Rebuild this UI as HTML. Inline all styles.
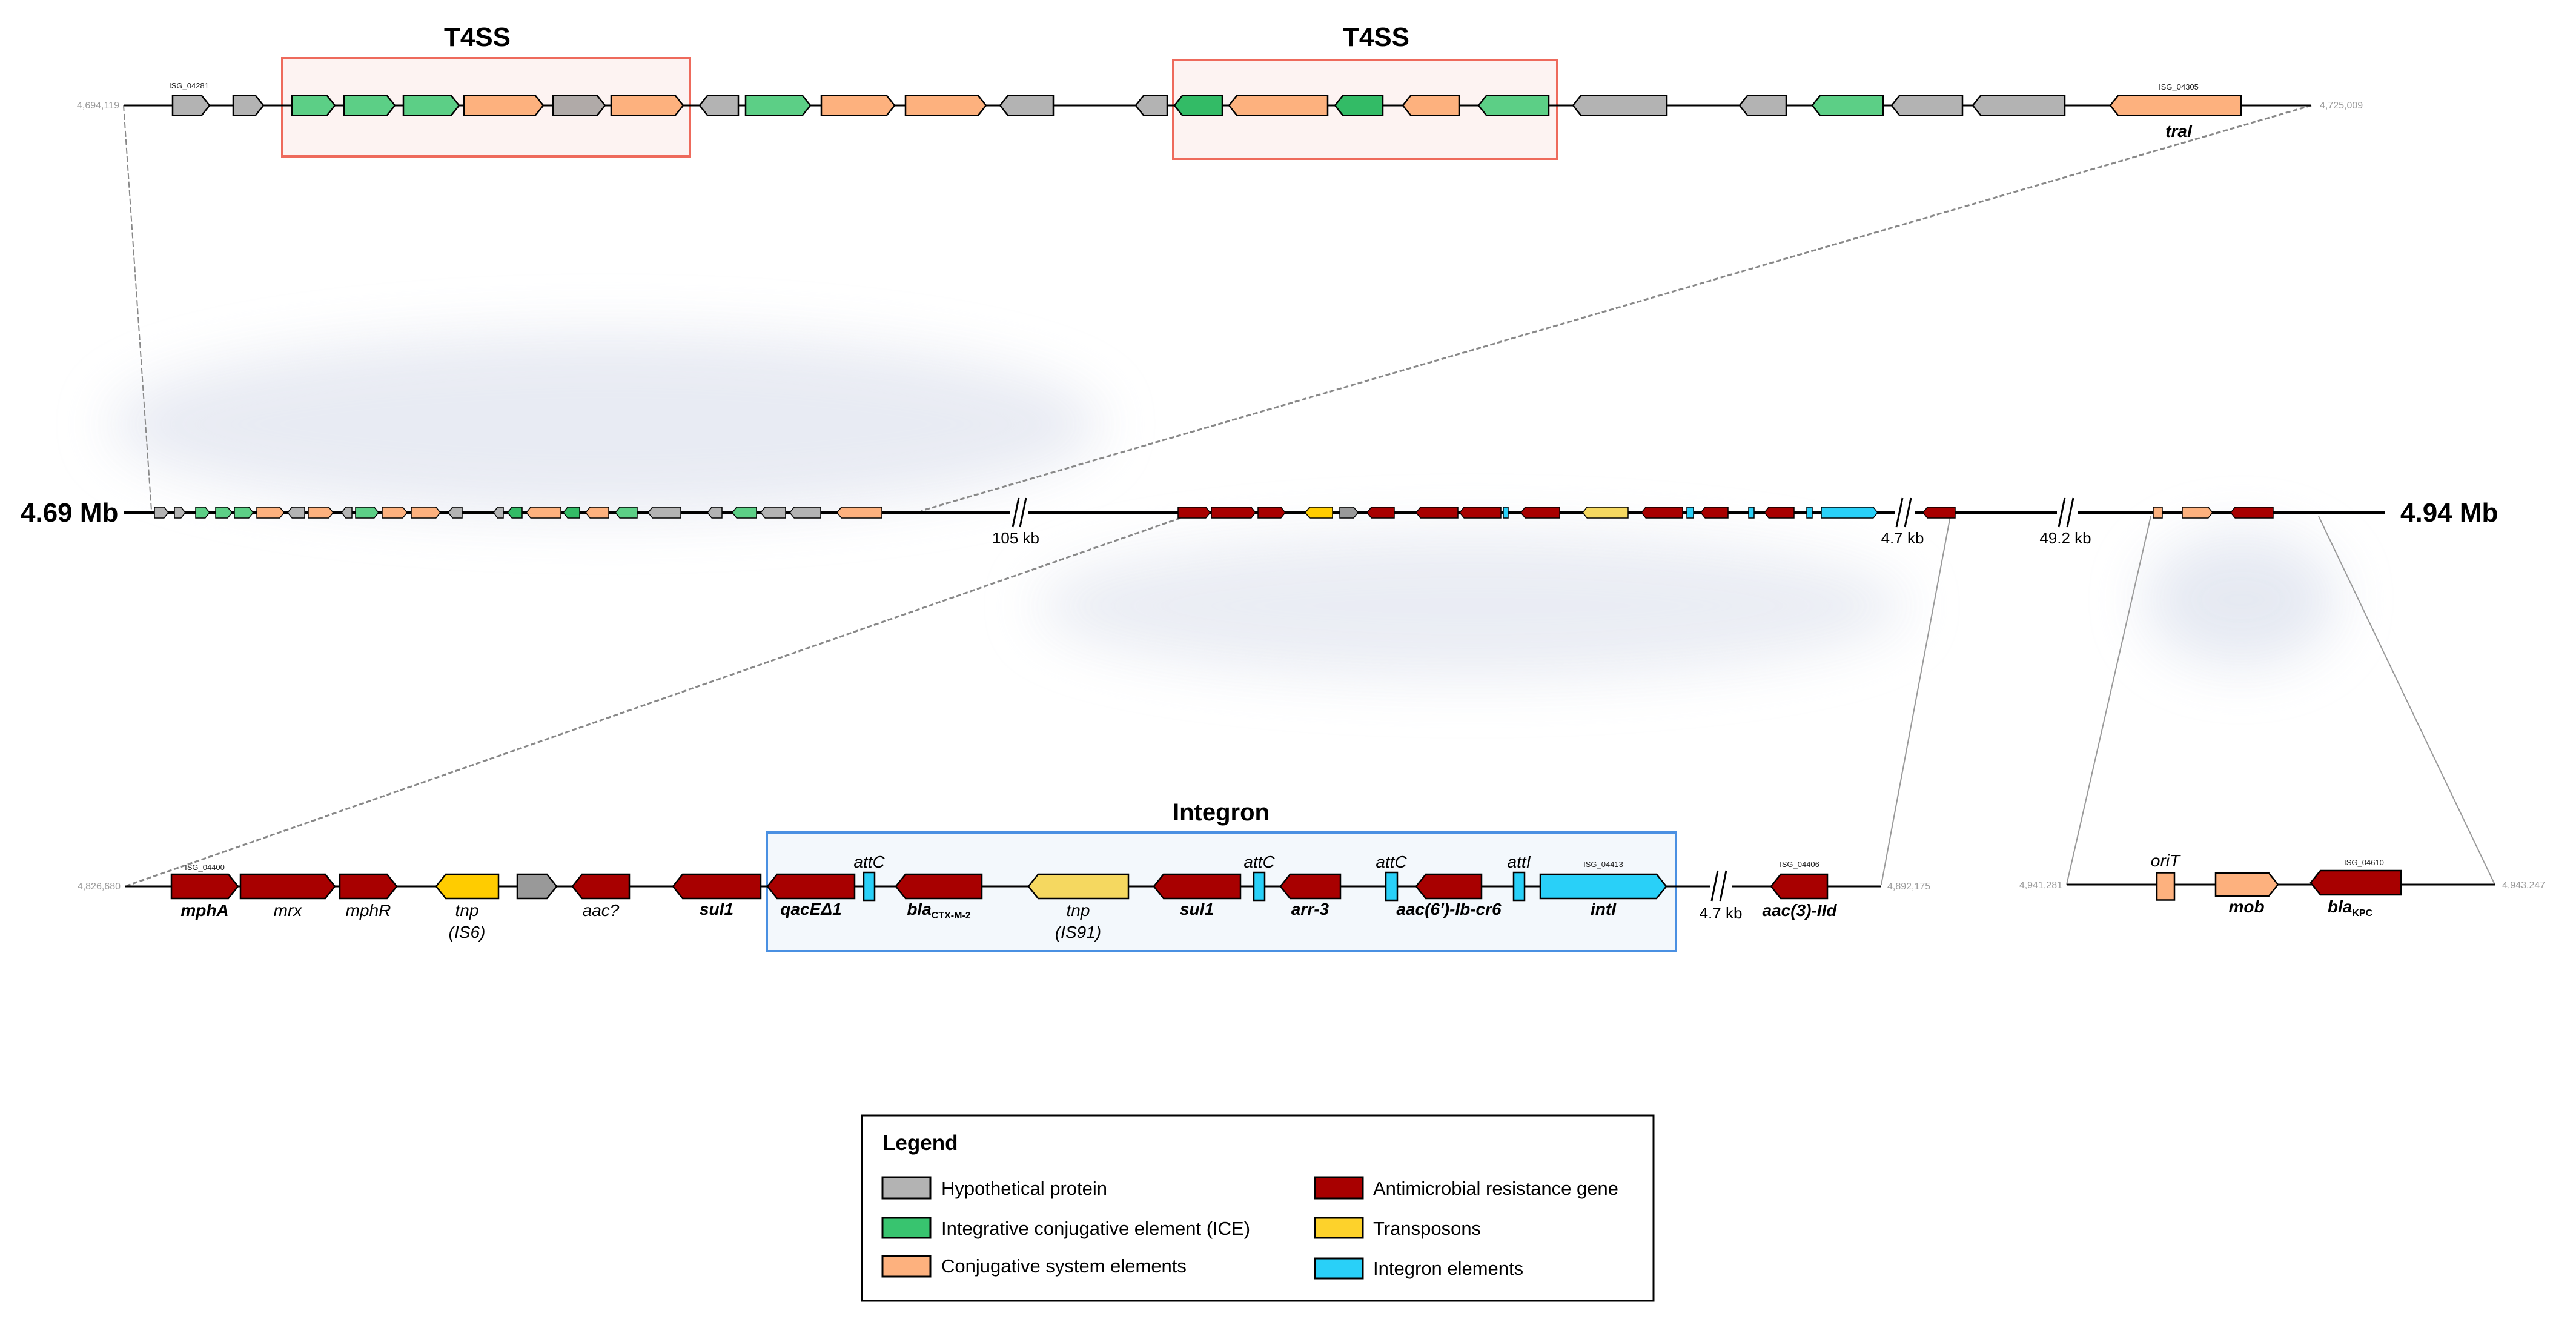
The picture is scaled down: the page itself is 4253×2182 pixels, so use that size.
<!DOCTYPE html>
<html><head><meta charset="utf-8"><style>
html,body{margin:0;padding:0;background:#fff;}
svg{display:block;}
text{font-family:"Liberation Sans",Arial,sans-serif;}
.lab{font-size:28px;font-style:italic;text-anchor:middle;}
.b{font-weight:bold;}
.tiny{font-size:13px;fill:#222;text-anchor:middle;}
.coord{font-size:16px;fill:#999;}
.lg{font-size:31px;}
</style></head><body>
<svg id="s" width="4253" height="2182" viewBox="0 0 4253 2182" xmlns="http://www.w3.org/2000/svg">
<defs>
<filter id="bl" x="-50%" y="-50%" width="200%" height="200%"><feGaussianBlur stdDeviation="45"/></filter>
</defs>
<!-- shaded areas -->
<ellipse cx="1000" cy="700" rx="820" ry="150" fill="#e6e9f2" filter="url(#bl)" opacity="0.9"/>
<ellipse cx="2430" cy="1000" rx="720" ry="120" fill="#e8ebf3" filter="url(#bl)" opacity="0.9"/>
<ellipse cx="3700" cy="990" rx="160" ry="110" fill="#e3e7f1" filter="url(#bl)" opacity="0.9"/>

<!-- T4SS boxes -->
<rect x="466" y="96" width="673" height="162" fill="#fdf3f2" stroke="#ee6a5c" stroke-width="4"/>
<rect x="1937" y="99" width="634" height="163" fill="#fdf3f2" stroke="#ee6a5c" stroke-width="4"/>
<text x="788" y="76" font-size="44" font-weight="bold" text-anchor="middle">T4SS</text>
<text x="2272" y="76" font-size="44" font-weight="bold" text-anchor="middle">T4SS</text>

<!-- Integron box -->
<rect x="1266" y="1374" width="1501" height="196" fill="#f3f8fc" stroke="#4a90e2" stroke-width="4"/>
<text x="2016" y="1354" font-size="40" font-weight="bold" text-anchor="middle">Integron</text>

<!-- connectors -->
<line x1="204" y1="174" x2="250" y2="842" stroke="#888" stroke-width="2" stroke-dasharray="10,4"/>
<line x1="3816" y1="174" x2="1521" y2="843" stroke="#888" stroke-width="3" stroke-dasharray="8,4"/>
<line x1="1949" y1="855" x2="209" y2="1462" stroke="#888" stroke-width="3" stroke-dasharray="8,4"/>
<line x1="3220" y1="852" x2="3106" y2="1460" stroke="#999" stroke-width="2"/>
<line x1="3551" y1="852" x2="3412" y2="1460" stroke="#999" stroke-width="2"/>
<line x1="3828" y1="852" x2="4119" y2="1460" stroke="#999" stroke-width="2"/>

<!-- backbone lines -->
<line x1="204" y1="174" x2="3816" y2="174" stroke="#000" stroke-width="3"/>
<line x1="204" y1="846" x2="3938" y2="846" stroke="#000" stroke-width="4"/>
<line x1="207" y1="1463" x2="3106" y2="1463" stroke="#000" stroke-width="3"/>
<line x1="3412" y1="1460" x2="4119" y2="1460" stroke="#000" stroke-width="3"/>

<g id="genes"></g>

<!-- break marks -->
<g fill="#fff" stroke="none"><rect x="1668" y="836" width="30" height="20"/><rect x="3128" y="836" width="34" height="20"/><rect x="3396" y="836" width="34" height="20"/><rect x="2823" y="1453" width="36" height="20"/></g>
<g stroke="#000" stroke-width="3">
<line x1="1672" y1="870" x2="1682" y2="822"/><line x1="1684" y1="870" x2="1694" y2="822"/>
<line x1="3131" y1="870" x2="3141" y2="822"/><line x1="3145" y1="870" x2="3155" y2="822"/>
<line x1="3399" y1="870" x2="3409" y2="822"/><line x1="3413" y1="870" x2="3423" y2="822"/>
<line x1="2826" y1="1487" x2="2836" y2="1437"/><line x1="2840" y1="1487" x2="2850" y2="1437"/>
</g>
<g font-size="26" text-anchor="middle">
<text x="1677" y="897">105 kb</text>
<text x="3141" y="897">4.7 kb</text>
<text x="3410" y="897">49.2 kb</text>
<text x="2841" y="1516">4.7 kb</text>
</g>
<text x="34" y="861" font-size="44" font-weight="bold">4.69 Mb</text>
<text x="3963" y="861" font-size="44" font-weight="bold">4.94 Mb</text>

<!-- coordinates -->
<text class="coord" x="197" y="179" text-anchor="end">4,694,119</text>
<text class="coord" x="3830" y="179">4,725,009</text>
<text class="coord" x="199" y="1468" text-anchor="end">4,826,680</text>
<text class="coord" x="3116" y="1468">4,892,175</text>
<text class="coord" x="3405" y="1466" text-anchor="end">4,941,281</text>
<text class="coord" x="4131" y="1466">4,943,247</text>

<!-- tiny ids -->
<text class="tiny" x="312" y="146">ISG_04281</text>
<text class="tiny" x="3597" y="148">ISG_04305</text>
<text class="tiny" x="338" y="1436">ISG_04400</text>
<text class="tiny" x="2647" y="1431">ISG_04413</text>
<text class="tiny" x="2971" y="1431">ISG_04406</text>
<text class="tiny" x="3903" y="1428">ISG_04610</text>

<!-- labels -->
<text class="lab b" x="3597" y="226">traI</text>
<g>
<text class="lab b" x="338" y="1512">mphA</text>
<text class="lab" x="475" y="1512">mrx</text>
<text class="lab" x="608" y="1512">mphR</text>
<text class="lab" x="771" y="1512">tnp</text>
<text class="lab" x="771" y="1548" font-style="normal">(IS<tspan font-style="italic">6</tspan>)</text>
<text class="lab" x="992" y="1512">aac?</text>
<text class="lab b" x="1183" y="1510">sul1</text>
<text class="lab b" x="1339" y="1510">qacEΔ1</text>
<text class="lab" x="1435" y="1432">attC</text>
<text class="lab b" x="1550" y="1510">bla<tspan font-size="16" dy="6" font-style="normal">CTX-M-2</tspan></text>
<text class="lab" x="1780" y="1512">tnp</text>
<text class="lab" x="1780" y="1548" font-style="normal">(IS<tspan font-style="italic">91</tspan>)</text>
<text class="lab b" x="1976" y="1510">sul1</text>
<text class="lab" x="2079" y="1432">attC</text>
<text class="lab b" x="2163" y="1510">arr-3</text>
<text class="lab" x="2297" y="1432">attC</text>
<text class="lab b" x="2392" y="1510">aac(6')-Ib-cr6</text>
<text class="lab" x="2508" y="1432">attI</text>
<text class="lab b" x="2647" y="1510">intI</text>
<text class="lab b" x="2971" y="1512">aac(3)-IId</text>
<text class="lab" x="3575" y="1430">oriT</text>
<text class="lab b" x="3709" y="1506">mob</text>
<text class="lab b" x="3880" y="1506">bla<tspan font-size="16" dy="6" font-style="normal">KPC</tspan></text>
</g>

<!-- Legend -->
<rect x="1423" y="1841" width="1307" height="306" fill="#fff" stroke="#000" stroke-width="3"/>
<text x="1457" y="1898" font-size="35" font-weight="bold">Legend</text>
<g stroke="#000" stroke-width="3">
<rect x="1457" y="1943" width="79" height="35" fill="#b3b3b3"/>
<rect x="1457" y="2010" width="79" height="33" fill="#38c46f"/>
<rect x="1457" y="2073" width="79" height="34" fill="#fdb17e"/>
<rect x="2171" y="1943" width="79" height="35" fill="#a80000"/>
<rect x="2171" y="2010" width="79" height="33" fill="#fdd22b"/>
<rect x="2171" y="2077" width="79" height="33" fill="#29d0f8"/>
</g>
<g class="lg">
<text class="lg" x="1554" y="1972">Hypothetical protein</text>
<text class="lg" x="1554" y="2038">Integrative conjugative element (ICE)</text>
<text class="lg" x="1554" y="2100">Conjugative system elements</text>
<text class="lg" x="2267" y="1972">Antimicrobial resistance gene</text>
<text class="lg" x="2267" y="2038">Transposons</text>
<text class="lg" x="2267" y="2104">Integron elements</text>
</g>
</svg>
<script>
var G='#b3b3b3',Gb='#b0aaa8',Gr='#5ccf86',Gd='#33bb66',O='#fdb17e',R='#a80000',Y='#ffcc00',YL='#f5d860',C='#29d0f8';
var out='';
function g(x1,x2,yc,h,d,c,sw){
 var t=Math.min(h*0.4,(x2-x1)*0.4),y1=yc-h/2,y2=yc+h/2,p;
 if(d>0)p=[[x1,y1],[x2-t,y1],[x2,yc],[x2-t,y2],[x1,y2]];
 else if(d<0)p=[[x2,y1],[x1+t,y1],[x1,yc],[x1+t,y2],[x2,y2]];
 else p=[[x1,y1],[x2,y1],[x2,y2],[x1,y2]];
 out+='<polygon points="'+p.map(function(q){return q.join(',')}).join(' ')+'" fill="'+c+'" stroke="#000" stroke-width="'+(sw||2.5)+'"/>';
}
var T=[[285,346,1,G],[385,435,1,G],[482,553,1,Gr],[568,652,1,Gr],[666,758,1,Gr],[766,897,1,O],[913,999,1,Gb],[1009,1128,1,O],
[1155,1219,-1,G],[1231,1338,1,Gr],[1356,1477,1,O],[1495,1628,1,O],[1651,1739,-1,G],[1875,1927,-1,G],[1939,2018,-1,Gd],[2029,2192,-1,O],
[2204,2283,-1,Gd],[2316,2409,-1,O],[2441,2557,-1,Gr],[2597,2752,-1,G],[2872,2949,-1,G],[2992,3109,-1,Gr],[3123,3240,-1,G],[3257,3409,-1,G],[3484,3700,-1,O]];
T.forEach(function(a){g(a[0],a[1],174,33,a[2],a[3]);});
var M=[[255,278,1,G],[288,306,1,G],[323,346,1,Gr],[356,383,1,Gr],[387,418,1,Gr],[424,469,1,O],[475,503,-1,G],[509,550,1,O],[564,581,-1,G],[587,625,1,Gr],[631,672,1,O],[679,727,1,O],[740,763,-1,G],
[815,831,-1,G],[838,862,-1,Gd],[869,926,-1,O],[930,957,-1,Gd],[967,1005,-1,O],[1016,1052,-1,Gr],[1070,1124,-1,G],[1168,1192,-1,G],[1209,1249,-1,Gr],[1256,1297,-1,G],[1304,1355,-1,G],[1382,1456,-1,O],
[1945,1998,1,R],[2000,2073,1,R],[2077,2122,1,R],[2155,2200,-1,Y],[2212,2242,1,'#999'],[2257,2302,-1,R],[2338,2407,-1,R],[2410,2478,-1,R],[2482,2490,0,C],[2511,2575,-1,R],[2613,2688,-1,YL],[2710,2778,-1,R],[2785,2796,0,C],[2808,2853,-1,R],[2887,2896,0,C],[2913,2962,-1,R],[2983,2992,0,C],[3007,3100,1,C],
[3175,3228,-1,R],[3555,3570,0,O],[3603,3653,1,O],[3683,3753,-1,R]];
M.forEach(function(a){g(a[0],a[1],846,18,a[2],a[3],1.5);});
var B=[[283,393,1,R],[397,553,1,R],[561,655,1,R],[720,823,-1,Y],[854,919,1,'#999'],[945,1039,-1,R],[1111,1256,-1,R],[1267,1411,-1,R],[1479,1621,-1,R],[1698,1863,-1,YL],[1905,2048,-1,R],[2114,2213,-1,R],[2338,2446,-1,R],[2543,2751,1,C],[2924,3017,-1,R]];
B.forEach(function(a){g(a[0],a[1],1463,40,a[2],a[3]);});
[[1426,1444],[2070,2088],[2288,2307],[2499,2517]].forEach(function(a){g(a[0],a[1],1463,46,0,C);});
g(3561,3590,1463,45,0,O);g(3658,3761,1460,38,1,O);g(3815,3964,1457,40,-1,R);
document.getElementById('genes').innerHTML=out;
</script>
</body></html>
